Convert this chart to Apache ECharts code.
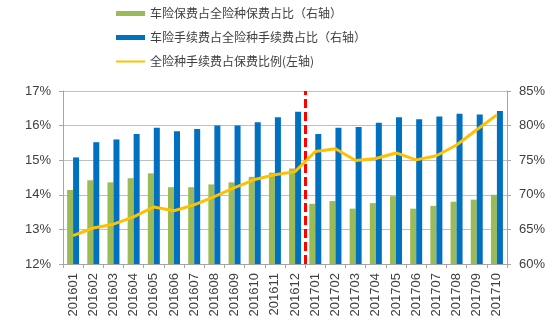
<!DOCTYPE html>
<html><head><meta charset="utf-8">
<script src="https://cdn.jsdelivr.net/npm/echarts@6/dist/echarts.min.js"></script>
<style>html,body{margin:0;padding:0;background:#fff}#c{width:550px;height:330px}</style>
</head><body><div id="c"></div>
<script>
const categories = ['201601','201602','201603','201604','201605','201606','201607','201608','201609','201610','201611','201612','201701','201702','201703','201704','201705','201706','201707','201708','201709','201710'];
// right axis (%)
const autoPremiumShare = [70.7,72.1,71.8,72.4,73.1,71.1,71.1,71.5,71.8,72.6,73.2,73.8,68.7,69.1,68.0,68.8,69.8,68.0,68.4,69.0,69.3,70.0];
const autoFeeShare = [75.4,77.6,78.0,78.8,79.7,79.2,79.5,80.0,80.0,80.5,81.2,82.0,78.8,79.7,79.8,80.4,81.2,80.9,81.3,81.7,81.6,82.1];
// left axis (%)
const feeToPremium = [12.82,13.04,13.15,13.36,13.65,13.54,13.71,13.95,14.21,14.44,14.58,14.67,15.25,15.33,14.99,15.05,15.21,15.01,15.13,15.44,15.88,16.31];
const leftTicks = [12,17,1];
const rightTicks = [60,85,5];
const dividerIndex = 12; // boundary between 201612 and 201701
const names = ['车险保费占全险种保费占比（右轴）','车险手续费占全险种手续费占比（右轴）','全险种手续费占保费比例(左轴)'];

const chart = echarts.init(document.getElementById('c'));
const axisLabel = {color:'#404040', fontSize:13, fontFamily:'Liberation Sans, Arial'};
chart.setOption({
  animation:false,
  legend:{
    orient:'vertical', left:116, top:6, padding:0, itemWidth:29, itemHeight:5, itemGap:9,
    textStyle:{fontSize:12, lineHeight:15, color:'#404040', fontFamily:'Noto Sans CJK SC'},
    data:[{name:names[0],icon:'rect'},{name:names[1],icon:'rect'},{name:names[2],icon:'path://M0,0H290V20H0Z'}]
  },
  grid:{left:63, right:43, top:91, bottom:66},
  xAxis:[{
    type:'category', data:categories, boundaryGap:true,
    axisLine:{lineStyle:{color:'#a6a6a6'}},
    axisTick:{show:true, length:4, lineStyle:{color:'#a6a6a6'}},
    axisLabel:Object.assign({rotate:90, margin:9, interval:0}, axisLabel)
  },{
    type:'value', min:0, max:categories.length, show:false
  }],
  yAxis:[{
    type:'value', min:leftTicks[0], max:leftTicks[1], interval:leftTicks[2], position:'left',
    axisLine:{show:true, lineStyle:{color:'#a6a6a6'}},
    axisTick:{show:true, length:4, lineStyle:{color:'#a6a6a6'}},
    splitLine:{lineStyle:{color:'#bfbfbf'}},
    axisLabel:Object.assign({formatter:'{value}%', margin:12}, axisLabel)
  },{
    type:'value', min:rightTicks[0], max:rightTicks[1], interval:rightTicks[2], position:'right',
    axisLine:{show:true, lineStyle:{color:'#a6a6a6'}},
    axisTick:{show:true, length:4, lineStyle:{color:'#a6a6a6'}},
    splitLine:{show:false},
    axisLabel:Object.assign({formatter:'{value}%', margin:12}, axisLabel)
  }],
  series:[
    {name:names[0], type:'bar', yAxisIndex:1, data:autoPremiumShare, barWidth:6, barGap:'0%', itemStyle:{color:'#9BBB59'}},
    {name:names[1], type:'bar', yAxisIndex:1, data:autoFeeShare, barWidth:6, barGap:'0%', itemStyle:{color:'#0070C0'}},
    {name:names[2], type:'line', yAxisIndex:0, data:feeToPremium, symbol:'none', lineStyle:{color:'#FFC000', width:3}, itemStyle:{color:'#FFC000'}, z:5},
    {name:'divider', type:'line', xAxisIndex:1, yAxisIndex:0, data:[], symbol:'none',
     markLine:{silent:true, symbol:'none', label:{show:false},
       lineStyle:{color:'#FF0000', type:[9,4], width:3},
       data:[{xAxis:dividerIndex}]}, z:6}
  ]
});
</script></body></html>
